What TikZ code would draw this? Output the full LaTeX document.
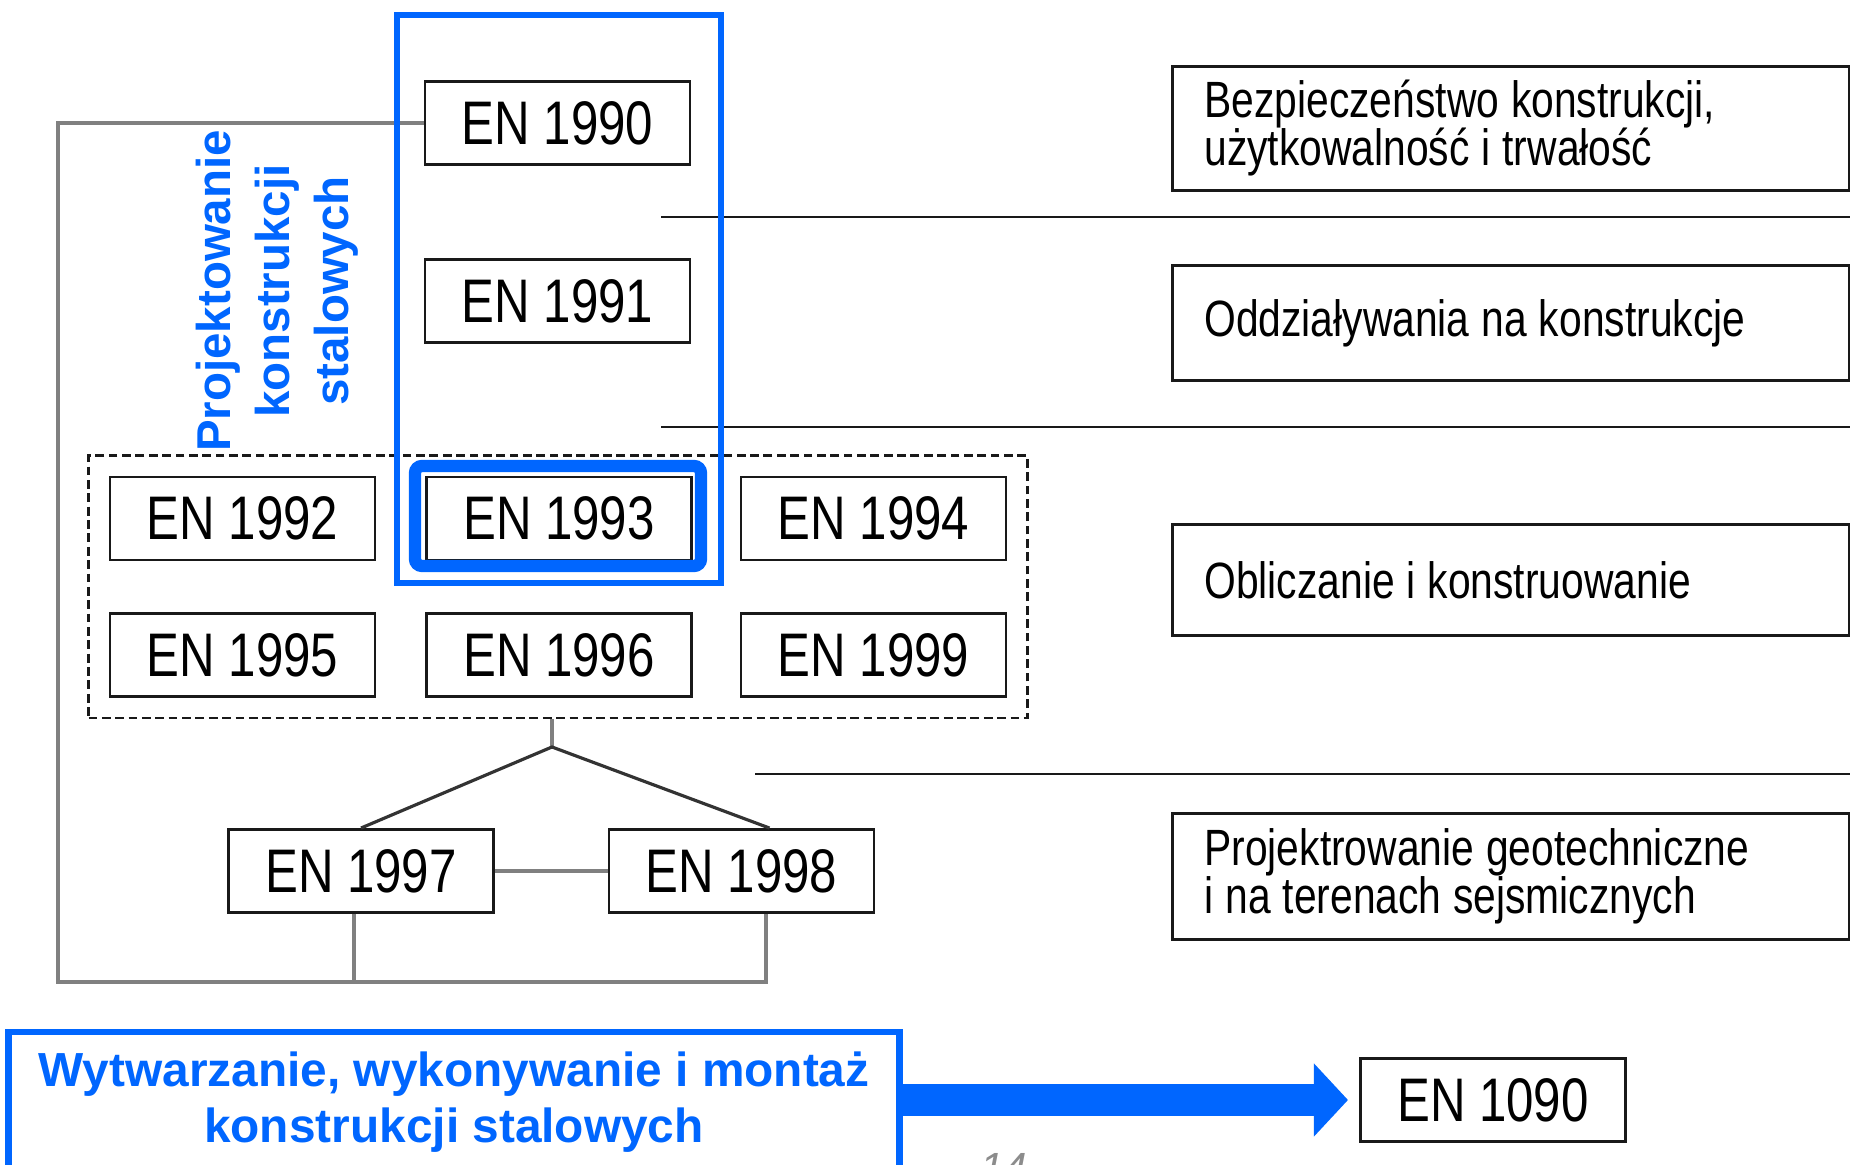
\documentclass[tikz,border=0pt]{standalone}
\usepackage{fontspec}
\setmainfont{Liberation Sans}
\newfontfamily\narrowfont[FakeStretch=0.8]{Liberation Sans}
\newfontfamily\topicfont[FakeStretch=0.8]{Liberation Sans}
\newcommand\tightspace{\spaceskip=3.4pt plus 1pt\relax}
\usetikzlibrary{arrows.meta,fit,calc}
\definecolor{normblue}{RGB}{0,102,255}

\begin{document}
\begin{tikzpicture}[x=0.01cm,y=-0.01cm,
	enbox/.style={draw=black!90,line width=0.8pt,fill=white,minimum width=2.65cm,minimum height=0.83cm,inner sep=0pt,font=\narrowfont\fontsize{17.5}{20}\selectfont},
	topicbox/.style={draw=black!90,line width=0.8pt,anchor=north west,minimum width=6.77cm,text width=6.13cm,inner xsep=0.32cm,inner ysep=0pt,align=left,font=\topicfont\fontsize{14.5}{13.7}\selectfont,execute at begin node=\tightspace},
	rule/.style={draw=black!90,line width=0.8pt},
	link/.style={draw=black!50,line width=0.9pt},
	treeline/.style={draw=black!80,line width=0.9pt},
	steelframe/.style={draw=normblue,line width=1.9pt},
	bluetext/.style={text=normblue,font=\bfseries\fontsize{13.5}{16.8}\selectfont,align=center}]
	\useasboundingbox (0,0) rectangle (1850,1165);

	% separator rules on the right
	\draw[rule] (661,217) -- (1850,217);
	\draw[rule] (661,427) -- (1850,427);
	\draw[rule] (755,774) -- (1850,774);

	% EN standards
	\node[enbox] (en1990) at (557.5,123) {EN 1990};
	\node[enbox] (en1991) at (557.5,301) {EN 1991};
	\node[enbox] (en1992) at (242.5,518.5) {EN 1992};
	\node[enbox] (en1993) at (559,518.5) {EN 1993};
	\node[enbox] (en1994) at (873.5,518.5) {EN 1994};
	\node[enbox] (en1995) at (242.5,655) {EN 1995};
	\node[enbox] (en1996) at (559,655) {EN 1996};
	\node[enbox] (en1999) at (873.5,655) {EN 1999};
	\node[enbox] (en1997) at (361,871) {EN 1997};
	\node[enbox] (en1998) at (741.5,871) {EN 1998};
	\node[draw=black!90,dash pattern=on 2.5pt off 1.3pt,line width=0.8pt,inner sep=0.2cm,fit=(en1992)(en1999)] (grp) {};

	% links
	\coordinate (fork) at (552,747);
	\coordinate (cornerL) at (58,982);
	\draw[link] (fork |- grp.south) -- (fork);
	\draw[treeline] (en1997.north) -- (fork) -- ([xshift=0.28cm]en1998.north);
	\draw[link,line width=1.4pt] (en1997) -- (en1998);
	\draw[link] (en1990.west) -| (cornerL) -| ([xshift=0.245cm]en1998.south);
	\draw[link] ([xshift=-0.07cm]en1997.south) -- ([xshift=-0.07cm]en1997.south |- cornerL);

	% topics
	\node[topicbox,minimum height=1.24cm] (safety) at (1171,65) {Bezpieczeństwo konstrukcji,\\użytkowalność i trwałość};
	\node[topicbox,minimum height=1.15cm] (actions) at (1171,264) {Oddziaływania na konstrukcje};
	\node[topicbox,minimum height=1.11cm] (design) at (1171,523) {Obliczanie i konstruowanie};
	\node[topicbox,minimum height=1.26cm] (geo) at (1171,812) {Projektrowanie geotechniczne\\i na terenach sejsmicznych};

	% steel design
	\draw[steelframe] (397,15) rectangle (721,583);
	\draw[draw=normblue,line width=3.5pt,rounded corners=2pt] (415,466) rectangle (701,566);
	\node[bluetext,rotate=90] (steeltitle) at (277,291) {Projektowanie\\konstrukcji\\stalowych};

	% execution
	\node[steelframe,minimum width=8.9cm,minimum height=1.4cm,inner sep=0pt,bluetext,font=\bfseries\fontsize{13.6}{15.9}\selectfont] (wbox) at (454,1102) {Wytwarzanie, wykonywanie i montaż\\konstrukcji stalowych};
	\node[enbox] (en1090) at (1493,1100) {EN 1090};
	\draw[draw=normblue,line width=0.32cm,-{Triangle[length=0.34cm,width=0.71cm]},shorten >=0.11cm] (wbox.east |- en1090) -- (en1090.west);
	\node[anchor=north,inner sep=0pt,text=black!45,font=\itshape\fontsize{12}{12}\selectfont] (pagenum) at (1004,1153) {14};
\end{tikzpicture}
\end{document}
